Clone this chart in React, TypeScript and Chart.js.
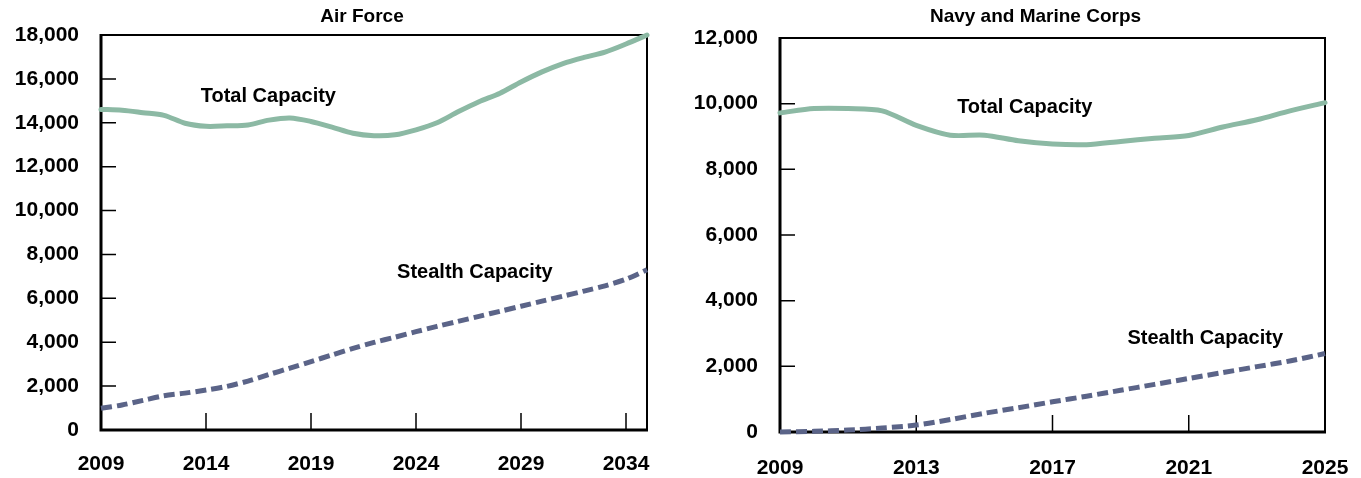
import React, { useEffect, useRef } from 'react';
import { Chart, registerables } from 'chart.js';

Chart.register(...registerables);

// ---- Air Force ----
const afYears = [2009, 2010, 2011, 2012, 2013, 2014, 2015, 2016, 2017, 2018, 2019, 2020, 2021, 2022, 2023, 2024, 2025, 2026, 2027, 2028, 2029, 2030, 2031, 2032, 2033, 2034, 2035];
const afTotal = [14610, 14570, 14460, 14340, 13980, 13840, 13860, 13900, 14120, 14220, 14060, 13800, 13520, 13410, 13450, 13680, 14000, 14500, 14960, 15350, 15860, 16320, 16700, 16980, 17220, 17590, 18000];
const afStealth = [990, 1140, 1350, 1560, 1680, 1820, 1990, 2230, 2530, 2820, 3120, 3420, 3720, 3990, 4230, 4480, 4720, 4950, 5180, 5410, 5640, 5870, 6100, 6330, 6570, 6870, 7300];
const afXTicks = [2009, 2014, 2019, 2024, 2029, 2034];
const afYTicks = [0, 2000, 4000, 6000, 8000, 10000, 12000, 14000, 16000, 18000];

// ---- Navy and Marine Corps ----
const nmYears = [2009, 2010, 2011, 2012, 2013, 2014, 2015, 2016, 2017, 2018, 2019, 2020, 2021, 2022, 2023, 2024, 2025];
const nmTotal = [9720, 9850, 9850, 9780, 9340, 9040, 9040, 8870, 8770, 8750, 8850, 8950, 9030, 9290, 9510, 9790, 10030];
const nmStealth = [0, 20, 60, 120, 210, 380, 570, 740, 920, 1090, 1270, 1450, 1630, 1810, 1990, 2170, 2390];
const nmXTicks = [2009, 2013, 2017, 2021, 2025];
const nmYTicks = [0, 2000, 4000, 6000, 8000, 10000, 12000];

const afTitle = 'Air Force';
const nmTitle = 'Navy and Marine Corps';
const totalLabel = 'Total Capacity';
const stealthLabel = 'Stealth Capacity';

// label anchors (data units): [x, y]
const afTotalLabelAt = [2013.75, 15180];
const afStealthLabelAt = [2023.1, 7160];
const nmTotalLabelAt = [2014.2, 9870];
const nmStealthLabelAt = [2019.2, 2860];

const FONT = "'Liberation Sans', Arial, sans-serif";
const TOTAL_COLOR = '#8cb9a4';
const STEALTH_COLOR = '#5b6488';

type PanelProps = {
  title: string;
  years: number[];
  total: number[];
  stealth: number[];
  xTicks: number[];
  yTicks: number[];
  totalAt: number[];
  stealthAt: number[];
  left: number;
  width: number;
  yWidth: number;
  xHeight: number;
  padRight: number;
  padTop: number;
  titleShift: number;
  xLabelPad: number;
};

function Panel(p: PanelProps) {
  const ref = useRef<HTMLCanvasElement | null>(null);

  useEffect(() => {
    if (!ref.current) return;
    const xMin = p.years[0];
    const xMax = p.years[p.years.length - 1];
    const yMin = p.yTicks[0];
    const yMax = p.yTicks[p.yTicks.length - 1];

    const framePlugin = {
      id: 'frame',
      beforeDatasetsDraw(chart: any) {
        const { ctx, chartArea: a, scales } = chart;
        ctx.save();
        ctx.strokeStyle = '#000';
        ctx.lineWidth = 2;
        ctx.beginPath();
        ctx.moveTo(a.left, a.top);
        ctx.lineTo(a.right, a.top);
        ctx.lineTo(a.right, a.bottom);
        ctx.stroke();
        ctx.lineWidth = 3;
        ctx.beginPath();
        ctx.moveTo(a.left, a.top - 1);
        ctx.lineTo(a.left, a.bottom);
        ctx.lineTo(a.right + 1, a.bottom);
        ctx.stroke();
        ctx.lineWidth = 1.5;
        ctx.beginPath();
        p.yTicks.forEach((v) => {
          if (v === yMin || v === yMax) return;
          const y = scales.y.getPixelForValue(v);
          ctx.moveTo(a.left, y);
          ctx.lineTo(a.left + 15, y);
        });
        p.xTicks.forEach((v) => {
          if (v === xMin || v === xMax) return;
          const x = scales.x.getPixelForValue(v);
          ctx.moveTo(x, a.bottom);
          ctx.lineTo(x, a.bottom - 17);
        });
        ctx.stroke();
        ctx.restore();
      },
      afterDatasetsDraw(chart: any) {
        const { ctx, scales, chartArea: a } = chart;
        ctx.save();
        ctx.fillStyle = '#000';
        ctx.font = `bold 20px ${FONT}`;
        ctx.textAlign = 'left';
        ctx.textBaseline = 'middle';
        ctx.fillText(totalLabel, scales.x.getPixelForValue(p.totalAt[0]), scales.y.getPixelForValue(p.totalAt[1]));
        ctx.fillText(stealthLabel, scales.x.getPixelForValue(p.stealthAt[0]), scales.y.getPixelForValue(p.stealthAt[1]));
        // panel title
        ctx.font = `bold 19px ${FONT}`;
        ctx.textAlign = 'center';
        ctx.fillText(p.title, (a.left + a.right) / 2 + p.titleShift, 17);
        ctx.restore();
      },
    };

    const chart = new Chart(ref.current, {
      type: 'line',
      data: {
        datasets: [
          {
            label: totalLabel,
            data: p.years.map((x, i) => ({ x, y: p.total[i] })),
            borderColor: TOTAL_COLOR,
            borderWidth: 5,
            pointRadius: 0,
            tension: 0.3,
            clip: false as any,
            borderCapStyle: 'round',
          },
          {
            label: stealthLabel,
            data: p.years.map((x, i) => ({ x, y: p.stealth[i] })),
            borderColor: STEALTH_COLOR,
            borderWidth: 5,
            borderDash: [11, 5],
            pointRadius: 0,
            tension: 0.3,
            clip: false as any,
            borderCapStyle: 'butt',
          },
        ],
      },
      options: {
        animation: false,
        responsive: true,
        maintainAspectRatio: false,
        layout: { padding: { left: 0, right: p.padRight, top: p.padTop, bottom: 0 } },
        plugins: {
          legend: { display: false },
          tooltip: { enabled: false },
          title: { display: false },
        },
        scales: {
          x: {
            type: 'linear',
            min: xMin,
            max: xMax,
            grid: { display: false, drawTicks: false },
            border: { display: false },
            afterBuildTicks: (s: any) => {
              s.ticks = p.xTicks.map((v) => ({ value: v }));
            },
            afterFit: (s: any) => {
              s.height = p.xHeight;
              s.paddingLeft = 0;
              s.paddingRight = 0;
            },
            ticks: {
              color: '#000',
              padding: p.xLabelPad,
              maxRotation: 0,
              autoSkip: false,
              font: { family: FONT, size: 21, weight: 'bold' },
              callback: (v: any) => String(v),
            },
          },
          y: {
            type: 'linear',
            min: yMin,
            max: yMax,
            grid: { display: false, drawTicks: false },
            border: { display: false },
            afterBuildTicks: (s: any) => {
              s.ticks = p.yTicks.map((v) => ({ value: v }));
            },
            afterFit: (s: any) => {
              s.width = p.yWidth;
              s.paddingTop = 0;
              s.paddingBottom = 0;
            },
            ticks: {
              color: '#000',
              padding: 22,
              autoSkip: false,
              font: { family: FONT, size: 21, weight: 'bold' },
              callback: (v: any) => Number(v).toLocaleString('en-US'),
            },
          },
        },
      } as any,
      plugins: [framePlugin],
    });
    return () => chart.destroy();
  }, []);

  return (
    <div style={{ position: 'absolute', left: p.left, top: 0, width: p.width, height: 478 }}>
      <canvas ref={ref} />
    </div>
  );
}

export default function App() {
  return (
    <div style={{ position: 'absolute', left: 0, top: 0, width: 1361, height: 478, background: '#fff', overflow: 'hidden' }}>
      <Panel
        title={afTitle}
        years={afYears}
        total={afTotal}
        stealth={afStealth}
        xTicks={afXTicks}
        yTicks={afYTicks}
        totalAt={afTotalLabelAt}
        stealthAt={afStealthLabelAt}
        left={0}
        width={680}
        yWidth={101}
        xHeight={48}
        padRight={33}
        padTop={35}
        titleShift={-12}
        xLabelPad={22}
      />
      <Panel
        title={nmTitle}
        years={nmYears}
        total={nmTotal}
        stealth={nmStealth}
        xTicks={nmXTicks}
        yTicks={nmYTicks}
        totalAt={nmTotalLabelAt}
        stealthAt={nmStealthLabelAt}
        left={680}
        width={681}
        yWidth={100}
        xHeight={46}
        padRight={36}
        padTop={38}
        titleShift={-17}
        xLabelPad={24}
      />
    </div>
  );
}
